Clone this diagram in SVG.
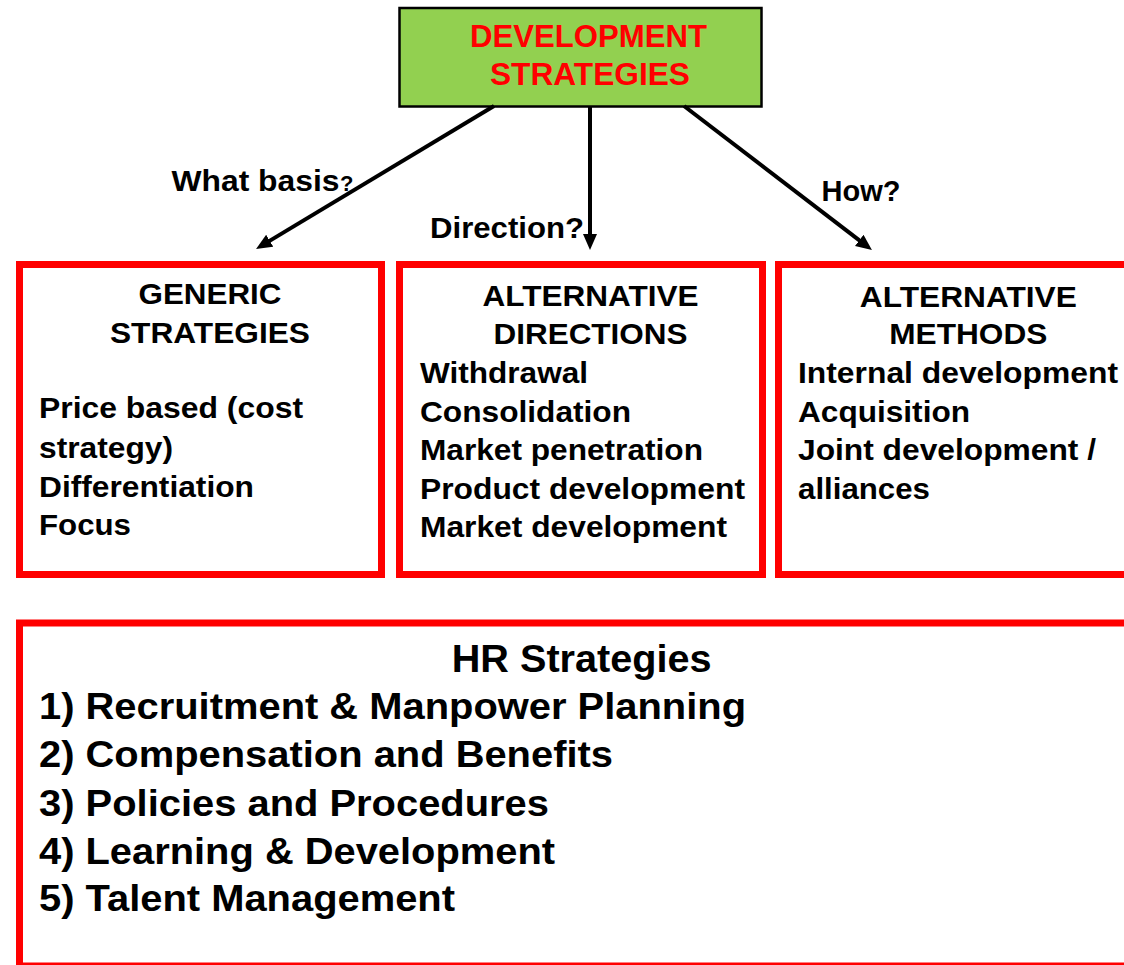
<svg xmlns="http://www.w3.org/2000/svg" width="1124" height="965" viewBox="0 0 1124 965">
<style>
text{font-family:"Liberation Sans",Arial,sans-serif;font-weight:bold;fill:#000}
.t{fill:#FF0000;font-size:30.5px}
.lbl{font-size:30px}
.h{font-size:29.5px}
.b{font-size:29.5px}
.hr{font-size:38px}
.l{font-size:37px}
.box{fill:#fff;stroke:#FF0000;stroke-width:7}
.conn{stroke:#000;stroke-width:4;fill:none}
</style>
<defs>
<marker id="ah" markerUnits="userSpaceOnUse" markerWidth="18" markerHeight="16" refX="8" refY="7" orient="auto">
<path d="M0,0 L16,7 L0,14 z" fill="#000"/>
</marker>
</defs>
<rect width="1124" height="965" fill="#fff"/>

<g id="hr-strategies">
<rect class="box" x="19.5" y="623" width="1120" height="343" stroke-width="8"/>
<text class="hr" x="581.7" y="671.5" text-anchor="middle" textLength="260" lengthAdjust="spacingAndGlyphs">HR Strategies</text>
<text class="l" x="39" y="719.3" textLength="707" lengthAdjust="spacingAndGlyphs">1) Recruitment &amp; Manpower Planning</text>
<text class="l" x="39" y="767" textLength="574" lengthAdjust="spacingAndGlyphs">2) Compensation and Benefits</text>
<text class="l" x="39" y="815.5" textLength="510" lengthAdjust="spacingAndGlyphs">3) Policies and Procedures</text>
<text class="l" x="39" y="863.5" textLength="516" lengthAdjust="spacingAndGlyphs">4) Learning &amp; Development</text>
<text class="l" x="39" y="911" textLength="416" lengthAdjust="spacingAndGlyphs">5) Talent Management</text>
</g>

<g id="development-strategies">
<rect x="399.5" y="8" width="362" height="98.5" fill="#92D050" stroke="#000" stroke-width="2.5"/>
<text class="t" x="588.5" y="47" text-anchor="middle" textLength="237" lengthAdjust="spacingAndGlyphs">DEVELOPMENT</text>
<text class="t" x="590" y="85" text-anchor="middle" textLength="200" lengthAdjust="spacingAndGlyphs">STRATEGIES</text>
</g>

<g id="connectors">
<line class="conn" x1="494" y1="106" x2="262.9" y2="244.9" marker-end="url(#ah)"/>
<line class="conn" x1="590" y1="106" x2="590" y2="242" marker-end="url(#ah)"/>
<line class="conn" x1="684" y1="106" x2="865.6" y2="245.2" marker-end="url(#ah)"/>
<text class="lbl" x="171.5" y="190.5" textLength="168" lengthAdjust="spacingAndGlyphs">What basis</text>
<text x="340" y="190.5" style="font-size:22px">?</text>
<text class="lbl" x="430" y="238.3" textLength="154" lengthAdjust="spacingAndGlyphs">Direction?</text>
<text class="lbl" x="821.5" y="200.5" style="font-size:29px" textLength="79" lengthAdjust="spacingAndGlyphs">How?</text>
</g>

<g id="generic-strategies">
<rect class="box" x="19.5" y="264.5" width="362" height="310"/>
<text class="h" x="210" y="304" text-anchor="middle" textLength="143" lengthAdjust="spacingAndGlyphs">GENERIC</text>
<text class="h" x="210" y="343" text-anchor="middle" textLength="200" lengthAdjust="spacingAndGlyphs">STRATEGIES</text>
<text class="b" x="39" y="418" textLength="264" lengthAdjust="spacingAndGlyphs">Price based (cost</text>
<text class="b" x="39" y="458" textLength="134" lengthAdjust="spacingAndGlyphs">strategy)</text>
<text class="b" x="39" y="497" textLength="215" lengthAdjust="spacingAndGlyphs">Differentiation</text>
<text class="b" x="39" y="535" textLength="92" lengthAdjust="spacingAndGlyphs">Focus</text>
</g>

<g id="alternative-directions">
<rect class="box" x="399.5" y="264.5" width="363" height="310"/>
<text class="h" x="590.5" y="306" text-anchor="middle" textLength="216" lengthAdjust="spacingAndGlyphs">ALTERNATIVE</text>
<text class="h" x="590.5" y="344" text-anchor="middle" textLength="194" lengthAdjust="spacingAndGlyphs">DIRECTIONS</text>
<text class="b" x="420" y="382.5" textLength="168" lengthAdjust="spacingAndGlyphs">Withdrawal</text>
<text class="b" x="420" y="421.5" textLength="211" lengthAdjust="spacingAndGlyphs">Consolidation</text>
<text class="b" x="420" y="460" textLength="283" lengthAdjust="spacingAndGlyphs">Market penetration</text>
<text class="b" x="420" y="498.5" textLength="325" lengthAdjust="spacingAndGlyphs">Product development</text>
<text class="b" x="420" y="536.5" textLength="307" lengthAdjust="spacingAndGlyphs">Market development</text>
</g>

<g id="alternative-methods">
<rect class="box" x="778.5" y="264.5" width="360" height="310"/>
<text class="h" x="968.3" y="306.5" text-anchor="middle" textLength="217" lengthAdjust="spacingAndGlyphs">ALTERNATIVE</text>
<text class="h" x="968.3" y="344" text-anchor="middle" textLength="158" lengthAdjust="spacingAndGlyphs">METHODS</text>
<text class="b" x="798" y="383" textLength="320" lengthAdjust="spacingAndGlyphs">Internal development</text>
<text class="b" x="798" y="421.5" textLength="172" lengthAdjust="spacingAndGlyphs">Acquisition</text>
<text class="b" x="798" y="460" textLength="298" lengthAdjust="spacingAndGlyphs">Joint development /</text>
<text class="b" x="798" y="498.5" textLength="132" lengthAdjust="spacingAndGlyphs">alliances</text>
</g>
</svg>
